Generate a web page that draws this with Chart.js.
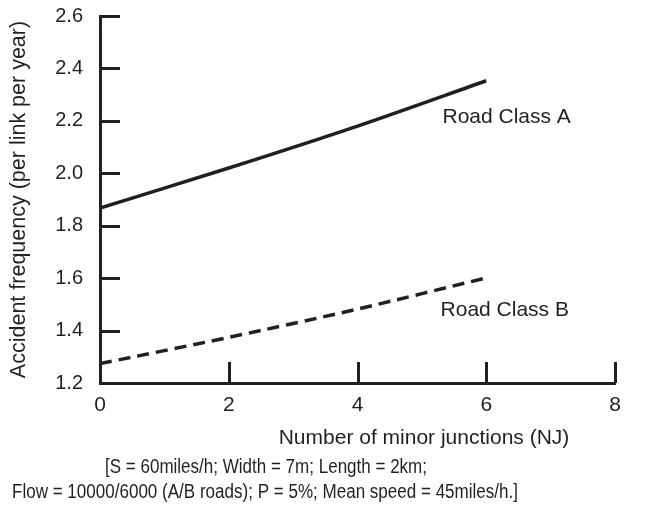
<!DOCTYPE html>
<html>
<head>
<meta charset="utf-8">
<script src="https://cdn.jsdelivr.net/npm/chart.js@4.4.1/dist/chart.umd.min.js"></script>
<style>
  html, body { margin: 0; padding: 0; background: #fff; }
  #wrap { width: 647px; height: 517px; }
</style>
</head>
<body>
<div id="wrap"><canvas id="chart" width="647" height="517"></canvas></div>
<script>
// Number of minor junctions (NJ)
const junctions = [0, 2, 4, 6];
// Accident frequency (per link per year)
const classA = [1.867, 2.02, 2.18, 2.353];
const classB = [1.274, 1.374, 1.482, 1.601];
const seriesLabels = ['Road Class A', 'Road Class B'];
// curve labels sit here, in data units
const labelAt = [{ x: 5.32, y: 2.213 }, { x: 5.29, y: 1.478 }];

const xTicks = [0, 2, 4, 6, 8];
const yTicks = [1.2, 1.4, 1.6, 1.8, 2.0, 2.2, 2.4, 2.6];

const xTitle = 'Number of minor junctions (NJ)';
const yTitle = 'Accident frequency (per link per year)';
const footnote = [
  '[S = 60miles/h; Width = 7m; Length = 2km;',
  'Flow = 10000/6000 (A/B roads); P = 5%; Mean speed = 45miles/h.]'
];

const ink = '#231f20';
const family = '"Liberation Sans", Arial, Helvetica, sans-serif';

// inward tick marks, curve labels and the text under the chart
const extras = {
  id: 'extras',
  afterDatasetsDraw(chart) {
    const { ctx, chartArea, scales: { x, y } } = chart;
    ctx.save();
    ctx.strokeStyle = ink;
    ctx.lineWidth = 3;
    ctx.beginPath();
    yTicks.slice(1).forEach(v => {
      const py = Math.round(y.getPixelForValue(v)) + 0.5;
      ctx.moveTo(chartArea.left, py);
      ctx.lineTo(chartArea.left + 20, py);
    });
    xTicks.slice(1).forEach(v => {
      const px = Math.round(x.getPixelForValue(v)) + 0.5;
      ctx.moveTo(px, chartArea.bottom);
      ctx.lineTo(px, chartArea.bottom - 21);
    });
    ctx.stroke();

    ctx.fillStyle = ink;
    ctx.font = '21px ' + family;
    ctx.textBaseline = 'middle';
    ctx.textAlign = 'left';
    seriesLabels.forEach((txt, i) => {
      ctx.fillText(txt, x.getPixelForValue(labelAt[i].x), y.getPixelForValue(labelAt[i].y));
    });

    ctx.textAlign = 'center';
    ctx.fillText(xTitle, 424, 438);

    ctx.font = '20px ' + family;
    ctx.fillText(footnote[0], 266, 467, 322);
    ctx.fillText(footnote[1], 265, 492, 506);
    ctx.restore();
  }
};

new Chart(document.getElementById('chart'), {
  type: 'line',
  data: {
    labels: junctions,
    datasets: [
      {
        label: seriesLabels[0],
        data: junctions.map((j, i) => ({ x: j, y: classA[i] })),
        borderColor: ink,
        borderWidth: 3.5,
        pointRadius: 0,
        tension: 0.3
      },
      {
        label: seriesLabels[1],
        data: junctions.map((j, i) => ({ x: j, y: classB[i] })),
        borderColor: ink,
        borderWidth: 3.5,
        borderDash: [12, 7],
        pointRadius: 0,
        tension: 0.3
      }
    ]
  },
  options: {
    responsive: false,
    animation: false,
    layout: { padding: { left: 0, right: 32, top: 16, bottom: 0 } },
    plugins: {
      legend: { display: false },
      tooltip: { enabled: false }
    },
    scales: {
      x: {
        type: 'linear',
        min: 0,
        max: 8,
        afterBuildTicks: s => { s.ticks = xTicks.map(v => ({ value: v })); },
        afterFit: s => { s.height = 134; },
        grid: { display: false },
        border: { color: ink, width: 3 },
        ticks: { color: ink, padding: 2, font: { family, size: 21 } }
      },
      y: {
        min: 1.2,
        max: 2.6,
        afterBuildTicks: s => { s.ticks = yTicks.map(v => ({ value: v })); },
        afterFit: s => { s.width = 100; s.paddingTop = 0; s.paddingBottom = 0; },
        grid: { display: false },
        border: { color: ink, width: 3 },
        ticks: {
          color: ink,
          padding: 9,
          font: { family, size: 20 },
          callback: v => v.toFixed(1)
        },
        title: {
          display: true,
          text: yTitle,
          color: ink,
          padding: { top: 6, bottom: 0 },
          font: { family, size: 21.5 }
        }
      }
    }
  },
  plugins: [extras]
});
</script>
</body>
</html>
